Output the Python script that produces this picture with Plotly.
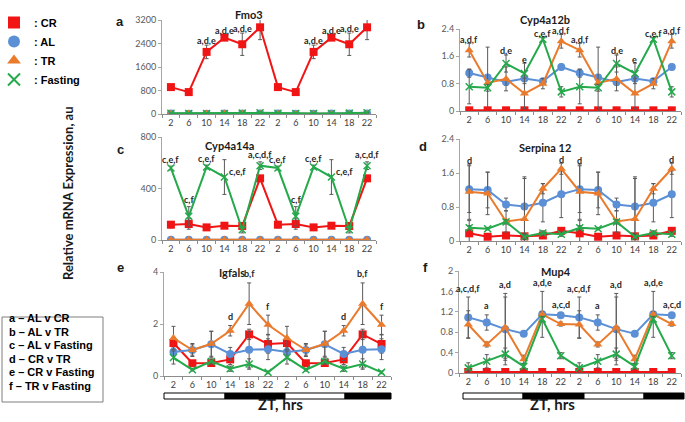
import plotly.graph_objects as go

# ---------------- data ----------------
ZT_LABELS = ["2", "6", "10", "14", "18", "22"]
GROUPS = ["CR", "AL", "TR", "Fasting"]

# Fmo3 (one 24 h profile; the chart plots it twice)
fmo3_cr = [916, 746, 2114, 2600, 2374, 2951]
fmo3_cr_err = [60, 50, 230, 60, 380, 420]
fmo3_al = [15, 12, 12, 14, 15, 20]
fmo3_al_err = [5, 5, 5, 5, 5, 5]
fmo3_tr = [8, 8, 8, 10, 10, 12]
fmo3_tr_err = [4, 4, 4, 4, 4, 4]
fmo3_fast = [25, 20, 18, 20, 30, 40]
fmo3_fast_err = [8, 8, 8, 8, 8, 10]
fmo3_labels = ["", "", "a,d,e", "a,d,e", "a,d,e", "a,d,e"]

# Cyp4a12b
cyp12_cr = [0.02, 0.02, 0.02, 0.02, 0.02, 0.02]
cyp12_cr_err = [0.01, 0.01, 0.01, 0.01, 0.01, 0.01]
cyp12_al = [1.11, 0.98, 0.85, 0.95, 0.87, 1.29]
cyp12_al_err = [0.12, 0.05, 0.10, 0.08, 0.06, 0.08]
cyp12_tr = [1.78, 0.82, 0.94, 0.51, 0.80, 2.04]
cyp12_tr_err = [0.20, 1.05, 0.35, 0.45, 0.15, 0.20]
cyp12_fast = [0.71, 0.68, 1.39, 1.10, 2.10, 0.56]
cyp12_fast_err = [0.50, 0.10, 0.25, 0.30, 0.05, 0.15]
cyp12_labels = ["a,d,f", "", "d,e", "e", "c,e,f", "a,d,f"]

# Cyp4a14a
cyp14_cr = [119, 124, 98, 111, 109, 479]
cyp14_cr_err = [25, 40, 10, 10, 10, 10]
cyp14_al = [2, 2, 2, 2, 2, 2]
cyp14_al_err = [1, 1, 1, 1, 1, 1]
cyp14_tr = [1, 1, 1, 1, 1, 1]
cyp14_tr_err = [1, 1, 1, 1, 1, 1]
cyp14_fast = [559, 184, 567, 489, 80, 577]
cyp14_fast_err = [15, 75, 15, 135, 25, 30]
cyp14_labels = ["c,e,f", "c,f", "c,e,f", "c,e,f", "", "a,c,d,f"]

# Serpina 12
serp_cr = [0.18, 0.10, 0.13, 0.11, 0.13, 0.24]
serp_cr_err = [0.30, 0.05, 0.05, 0.05, 0.05, 0.05]
serp_al = [1.22, 1.20, 0.86, 0.81, 0.90, 1.10]
serp_al_err = [0.55, 0.42, 0.15, 0.70, 0.45, 0.55]
serp_tr = [1.16, 1.12, 0.46, 0.52, 1.23, 1.70]
serp_tr_err = [0.65, 0.50, 0.25, 0.95, 0.12, 0.13]
serp_fast = [0.31, 0.29, 0.45, 0.10, 0.19, 0.16]
serp_fast_err = [0.05, 0.03, 0.05, 0.03, 0.05, 0.05]
serp_labels = ["d", "", "", "", "", "d"]

# Igfals
igf_cr = [1.27, 0.49, 0.50, 0.64, 1.60, 1.23]
igf_cr_err = [0.20, 0.10, 0.05, 0.20, 0.20, 0.35]
igf_al = [0.92, 1.00, 1.22, 0.85, 1.01, 1.03]
igf_al_err = [0.15, 0.25, 0.50, 0.25, 0.70, 0.40]
igf_tr = [1.46, 1.00, 1.24, 1.74, 2.78, 1.97]
igf_tr_err = [0.45, 0.20, 0.48, 0.20, 0.80, 0.37]
igf_fast = [0.71, 0.24, 0.56, 0.28, 0.46, 0.14]
igf_fast_err = [0.25, 0.05, 0.10, 0.10, 0.20, 0.05]
igf_labels = ["", "", "", "d", "b,f", "f"]

# Mup4
mup_cr = [0.02, 0.02, 0.02, 0.02, 0.02, 0.02]
mup_cr_err = [0.01, 0.01, 0.01, 0.01, 0.01, 0.01]
mup_al = [1.09, 0.99, 0.86, 0.77, 1.15, 1.13]
mup_al_err = [0.40, 0.15, 0.70, 0.03, 0.45, 0.03]
mup_tr = [0.95, 0.56, 0.89, 0.27, 1.15, 0.96]
mup_tr_err = [0.27, 0.05, 0.60, 0.08, 0.05, 0.04]
mup_fast = [0.10, 0.23, 0.37, 0.13, 1.06, 0.34]
mup_fast_err = [0.10, 0.13, 0.12, 0.05, 0.05, 0.06]
mup_labels = ["a,c,d,f", "a", "a,d", "", "a,d,e", "a,c,d"]

STAT_KEY = ["a – AL v CR", "b – AL v TR", "c – AL v Fasting",
            "d – CR v TR", "e – CR v Fasting", "f – TR v Fasting"]

# ---------------- styling / layout ----------------
W, H = 685, 422
COLORS = {"CR": "#F01414", "AL": "#5B8FD6", "TR": "#EA7A2C", "Fasting": "#24A94B"}
SYMBOLS = {"CR": "square", "AL": "circle", "TR": "triangle-up", "Fasting": "x-thin"}
SIZES = {"CR": 8, "AL": 8, "TR": 8, "Fasting": 7}
ERRC = "#5A5A5A"
TXT = "#262626"
FONT = "Lato, 'Open Sans', sans-serif"
ARIAL = "'Liberation Sans', Arial, sans-serif"

panels = [
    dict(name="Fmo3", letter="a",
         s={"CR": (fmo3_cr, fmo3_cr_err), "AL": (fmo3_al, fmo3_al_err),
            "TR": (fmo3_tr, fmo3_tr_err), "Fasting": (fmo3_fast, fmo3_fast_err)},
         labels=fmo3_labels, top=3200, dtick=800, xpx=(162, 376), ypx=(20, 114),
         tpos=(249, 6), lpos=(114, 12), lshift=5),
    dict(name="Cyp4a12b", letter="b",
         s={"CR": (cyp12_cr, cyp12_cr_err), "AL": (cyp12_al, cyp12_al_err),
            "TR": (cyp12_tr, cyp12_tr_err), "Fasting": (cyp12_fast, cyp12_fast_err)},
         labels=cyp12_labels, top=2.4, dtick=0.8, xpx=(460, 681), ypx=(29, 111),
         tpos=(572, 11), lpos=(421, 15), lshift=4),
    dict(name="Cyp4a14a", letter="c",
         s={"CR": (cyp14_cr, cyp14_cr_err), "AL": (cyp14_al, cyp14_al_err),
            "TR": (cyp14_tr, cyp14_tr_err), "Fasting": (cyp14_fast, cyp14_fast_err)},
         labels=cyp14_labels, top=800, dtick=400, xpx=(162, 376), ypx=(137, 240),
         tpos=(230, 137), lpos=(115, 140), lshift=7),
    dict(name="Serpina 12", letter="d",
         s={"CR": (serp_cr, serp_cr_err), "AL": (serp_al, serp_al_err),
            "TR": (serp_tr, serp_tr_err), "Fasting": (serp_fast, serp_fast_err)},
         labels=serp_labels, top=2.4, dtick=0.8, xpx=(460, 681), ypx=(139, 241),
         tpos=(573, 139), lpos=(423, 137), lshift=4),
    dict(name="Igfals", letter="e",
         s={"CR": (igf_cr, igf_cr_err), "AL": (igf_al, igf_al_err),
            "TR": (igf_tr, igf_tr_err), "Fasting": (igf_fast, igf_fast_err)},
         labels=igf_labels, top=4, dtick=2, xpx=(164, 391), ypx=(272, 376),
         tpos=(217, 272), lpos=(115, 267), lshift=9),
    dict(name="Mup4", letter="f",
         s={"CR": (mup_cr, mup_cr_err), "AL": (mup_al, mup_al_err),
            "TR": (mup_tr, mup_tr_err), "Fasting": (mup_fast, mup_fast_err)},
         labels=mup_labels, top=2, dtick=0.4, xpx=(459, 681), ypx=(271, 373),
         tpos=(573, 271), lpos=(425, 267), lshift=9),
]

def px_x(x):
    return x / W

def px_y(y):
    return 1 - y / H

fig = go.Figure()
annotations = []
shapes = []
x_idx = list(range(12))
tick_text = ZT_LABELS + ZT_LABELS

for i, p in enumerate(panels, start=1):
    xa = "x" if i == 1 else f"x{i}"
    ya = "y" if i == 1 else f"y{i}"
    for g in GROUPS:
        vals, errs = p["s"][g]
        marker = dict(symbol=SYMBOLS[g], size=SIZES[g], color=COLORS[g])
        if g == "Fasting":
            marker["line"] = dict(color=COLORS[g], width=1.5)
        fig.add_trace(go.Scatter(
            x=x_idx, y=vals + vals, xaxis=xa, yaxis=ya, mode="lines+markers",
            line=dict(color=COLORS[g], width=2), marker=marker,
            error_y=dict(type="data", array=errs + errs, color=ERRC, thickness=1, width=2),
            showlegend=False, hoverinfo="skip"))
    layout_x = dict(domain=[px_x(p["xpx"][0]), px_x(p["xpx"][1])], anchor=ya,
                    range=[-0.5, 11.5], tickmode="array", tickvals=x_idx, ticktext=tick_text,
                    showline=True, linecolor="#8C8C8C", linewidth=1, ticks="",
                    minor=dict(ticks="outside", tick0=-0.5, dtick=1, ticklen=3, tickcolor="#8C8C8C"),
                    showgrid=False, zeroline=False,
                    tickfont=dict(family=FONT, size=9, color="#404040"))
    layout_y = dict(domain=[px_y(p["ypx"][1]), px_y(p["ypx"][0])], anchor=xa,
                    range=[0, p["top"]], dtick=p["dtick"], tick0=0,
                    showline=True, linecolor="#A6A6A6", linewidth=1, ticks="outside",
                    ticklen=3, tickcolor="#A6A6A6", showgrid=False, zeroline=False,
                    tickfont=dict(family=FONT, size=9, color="#595959"))
    fig.layout["xaxis" if i == 1 else f"xaxis{i}"] = layout_x
    fig.layout["yaxis" if i == 1 else f"yaxis{i}"] = layout_y

    # significance labels above the highest error bar at each time point
    for k in range(12):
        lab = p["labels"][k % 6]
        if not lab:
            continue
        tops = [p["s"][g][0][k % 6] + p["s"][g][1][k % 6] for g in GROUPS]
        yv = max(tops)
        xs, ys = 0, p["lshift"]
        if p["name"] == "Cyp4a14a" and k % 6 == 3:
            yv = p["s"]["Fasting"][0][k % 6]
            xs, ys = 13, 6
        annotations.append(dict(x=k, y=yv, xref=xa, yref=ya, text=f"<b>{lab}</b>",
                                showarrow=False, xshift=xs, yshift=ys, yanchor="middle",
                                font=dict(family=FONT, size=9, color=TXT)))
    annotations.append(dict(x=px_x(p["tpos"][0]), y=px_y(p["tpos"][1]), xref="paper", yref="paper",
                            text=f"<b>{p['name']}</b>", showarrow=False,
                            font=dict(family=FONT, size=11, color="#1a1a1a")))
    annotations.append(dict(x=px_x(p["lpos"][0]), y=px_y(p["lpos"][1]), xref="paper", yref="paper",
                            text=f"<b>{p['letter']}</b>", showarrow=False,
                            font=dict(family=ARIAL, size=13, color="#1a1a1a")))

def lightdark(x0, cuts, x1, y0=393, y1=399):
    edges = [x0] + cuts + [x1]
    for j in range(len(edges) - 1):
        shapes.append(dict(type="rect", xref="paper", yref="paper",
                           x0=px_x(edges[j]), x1=px_x(edges[j + 1]),
                           y0=px_y(y1), y1=px_y(y0),
                           fillcolor="white" if j % 2 == 0 else "black",
                           line=dict(color="black", width=1)))

lightdark(164, [225, 285, 345], 391)
lightdark(463, [523, 584, 644], 684)
for cx in (280, 577):
    annotations.append(dict(x=px_x(cx), y=px_y(415), xref="paper", yref="paper",
                            text="<b>ZT, hrs</b>", showarrow=False,
                            font=dict(family=FONT, size=15, color="#1a1a1a")))

annotations.append(dict(x=px_x(58), y=px_y(193), xref="paper", yref="paper",
                        text="<b>Relative mRNA Expression, au</b>", textangle=-90,
                        showarrow=False, font=dict(family=FONT, size=13, color="#1a1a1a")))

shapes.append(dict(type="rect", xref="paper", yref="paper",
                   x0=px_x(2), x1=px_x(103), y0=px_y(402), y1=px_y(317),
                   line=dict(color="#7F7F7F", width=1), fillcolor="white"))
for j, t in enumerate(STAT_KEY):
    annotations.append(dict(x=px_x(7), y=px_y(326 + 13.6 * j), xref="paper", yref="paper",
                            text=f"<b>{t}</b>", showarrow=False, xanchor="left",
                            font=dict(family=ARIAL, size=11, color="black")))

for g in GROUPS:
    marker = dict(symbol=SYMBOLS[g], size=9, color=COLORS[g])
    if g == "Fasting":
        marker["line"] = dict(color=COLORS[g], width=1.5)
    fig.add_trace(go.Scatter(x=[None], y=[None], mode="markers", marker=marker,
                             name=f"<b>: {g}</b>", showlegend=True))

fig.update_layout(
    width=W, height=H, margin=dict(l=0, r=0, t=0, b=0, autoexpand=False),
    paper_bgcolor="white", plot_bgcolor="white",
    annotations=annotations, shapes=shapes,
    legend=dict(x=-6 / W, y=px_y(8), xanchor="left", yanchor="top",
                font=dict(family=ARIAL, size=11, color="black"),
                bgcolor="rgba(0,0,0,0)", tracegroupgap=0, itemsizing="constant"),
)

fig.write_html("out.html", config={"displayModeBar": False},
               post_script="document.body.style.margin='0px';document.body.style.overflow='hidden';")
